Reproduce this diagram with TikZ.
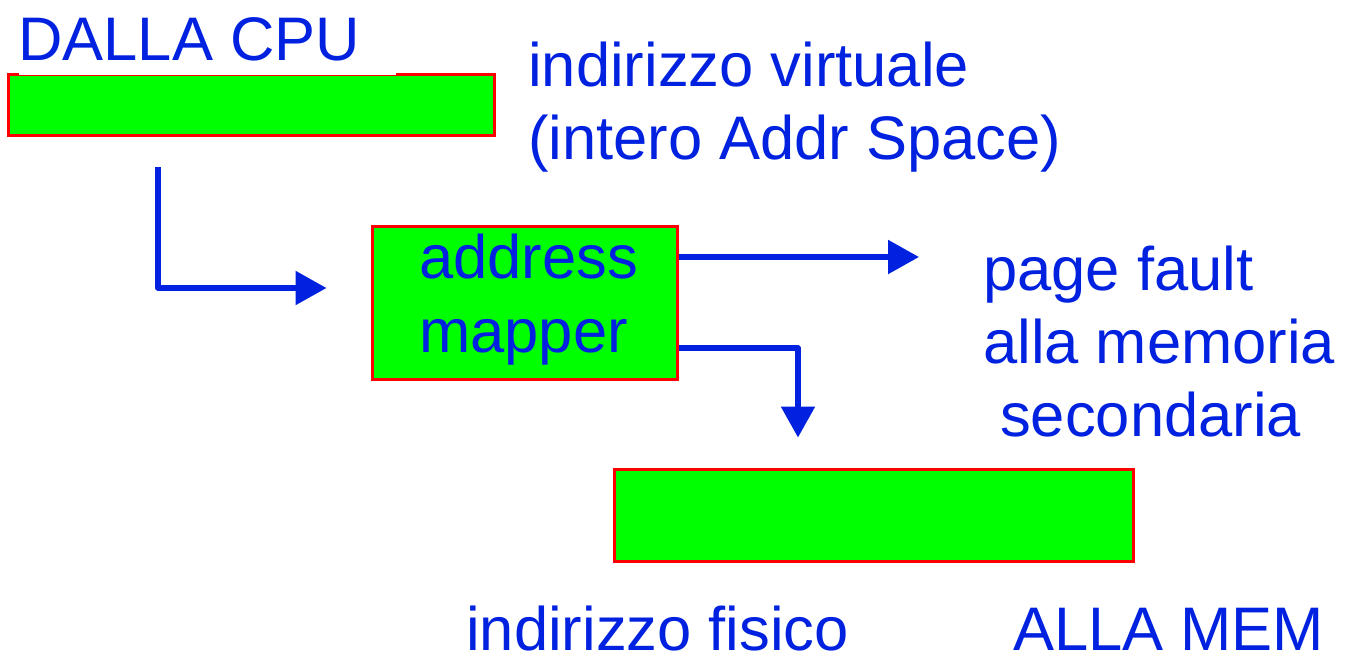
\documentclass[tikz,border=0pt]{standalone}
\usepackage{fontspec}
\setmainfont{Liberation Sans}
\usetikzlibrary{arrows.meta,calc}
\definecolor{txtblue}{RGB}{0,34,224}
\definecolor{boxgreen}{RGB}{0,255,0}
\definecolor{boxred}{RGB}{255,0,0}
\tikzset{
  gbox/.style={draw=boxred, fill=boxgreen, line width=3pt, inner sep=0pt},
  lbl/.style={text=txtblue, inner sep=0pt, anchor=base west, font=\fontsize{61.5}{74}\selectfont},
  arr/.style={draw=txtblue, line width=5.5pt, line join=round, -{Triangle[length=31pt,width=33pt]}}
}
\begin{document}
\begin{tikzpicture}[x=1pt,y=-1pt]
\useasboundingbox (0,0) rectangle (1348,657);
% boxes
\node[gbox, minimum width=486pt, minimum height=61pt] (cpu) at (251,104.5) {};
\fill[white] (19,70.5) rectangle (396,75.3);
\node[gbox, minimum width=305pt, minimum height=153pt] (mapper) at (524.5,302.5) {};
\node[gbox, minimum width=519pt, minimum height=92pt] (mem) at (873.5,515) {};
% labels
\node[lbl] (dalla) at (18,60) {DALLA CPU};
\node[lbl] (virt1) at (528,86) {indirizzo virtuale};
\node[lbl] (virt2) at (528,159) {(intero Addr Space)};
\node[lbl] (addr) at (419,278) {address};
\node[lbl] (mapp) at (419,352) {mapper};
\node[lbl] (pf1) at (983,290) {page fault};
\node[lbl] (pf2) at (983,363) {alla memoria};
\node[lbl] (pf3) at (1000,436) {secondaria};
\node[lbl] (fis) at (466,650) {indirizzo fisico};
\node[lbl] (allamem) at (1013,650) {ALLA MEM};
% connectors
\coordinate (s1) at (158,167);
\coordinate (pfend) at (919,257);
\draw[arr] (s1) |- ($(mapper.west)+(-44,-14.5)$);
\draw[arr] (mapper.east |- pfend) -- (pfend);
\draw[arr] ($(mapper.east)+(0,45.5)$) -| ($(mem.north)+(-75.5,-30)$);
\end{tikzpicture}
\end{document}
